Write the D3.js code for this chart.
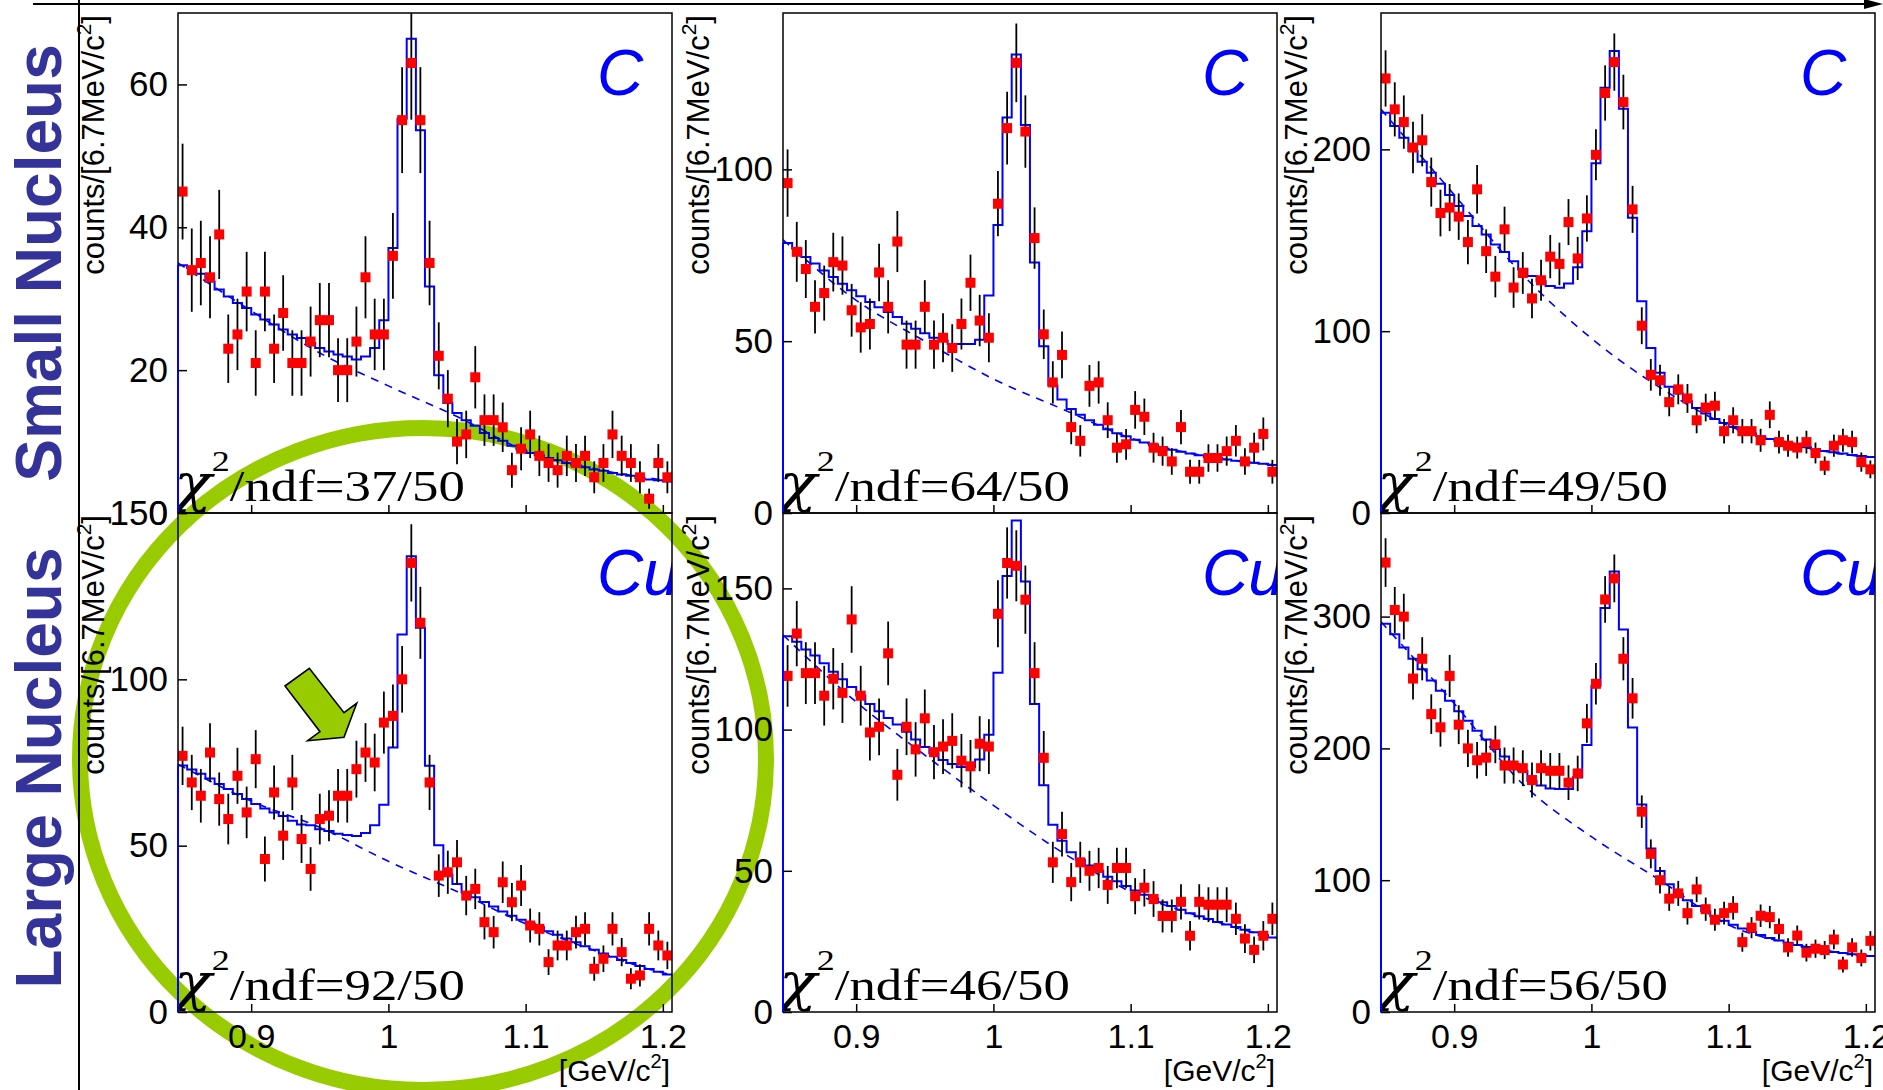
<!DOCTYPE html>
<html><head><meta charset="utf-8">
<script src="https://cdn.jsdelivr.net/npm/d3@7"></script>
<style>body{margin:0;background:#fff;} svg{display:block;}</style>
</head><body>
<svg id="c" width="1883" height="1090"></svg>
<script>
// ---------------- data ----------------
const massBins = [0.8500,0.8567,0.8633,0.8700,0.8767,0.8833,0.8900,0.8967,0.9033,0.9100,0.9167,0.9233,0.9300,0.9367,0.9433,0.9500,0.9567,0.9633,0.9700,0.9767,0.9833,0.9900,0.9967,1.0033,1.0100,1.0167,1.0233,1.0300,1.0367,1.0433,1.0500,1.0567,1.0633,1.0700,1.0767,1.0833,1.0900,1.0967,1.1033,1.1100,1.1167,1.1233,1.1300,1.1367,1.1433,1.1500,1.1567,1.1633,1.1700,1.1767,1.1833,1.1900,1.1967,1.2033];
const binWidth = 0.00667;
const massRange = [0.84667, 1.20667];
const xTickValues = [0.9, 1.0, 1.1, 1.2];

const countsC1 = [45,34,35,33,39,23,25,31,21,31,23,28,21,21,24,27,27,20,20,24,33,25,25,36,55,63,55,35,22,16,10,11,19,13,13,12,6,9,11,8,7,6,8,7,8,5,7,11,8,7,5,2,7,5];
const countsC2 = [96,76,71,60,64,73,72,59,54,55,70,60,79,49,49,60,49,51,48,55,67,56,51,90,112,131,111,80,52,38,46,25,21,37,38,27,19,20,30,28,19,18,15,25,12,12,16,16,18,21,15,19,23,12];
const countsC3 = [239,222,215,201,205,182,165,168,163,149,178,144,130,156,124,132,118,128,141,137,160,140,162,197,231,248,226,167,103,76,73,61,68,63,51,58,59,45,51,45,45,40,54,39,37,36,39,33,26,37,40,39,28,24];
const countsCu1 = [77,69,65,78,64,58,71,60,76,46,66,53,69,52,43,58,59,65,65,73,78,75,87,89,100,135,117,69,41,42,45,35,37,27,24,39,33,38,26,25,15,20,20,24,25,13,16,25,18,10,11,25,20,17];
const countsCu2 = [119,134,120,120,112,118,113,139,112,99,101,127,84,101,93,104,92,94,96,89,87,95,94,141,159,158,146,120,90,53,63,46,53,50,51,45,51,51,41,44,40,34,34,39,27,39,38,38,38,33,26,22,27,33];
const countsCu3 = [341,305,300,253,268,226,216,255,218,200,191,193,203,187,187,185,176,185,183,183,174,181,219,249,313,329,268,238,152,120,100,86,90,75,93,78,70,75,79,53,64,73,72,63,49,58,45,48,47,55,36,49,41,54];

const fitC1 = [34.7,34.3,33.5,32.4,31.3,30.3,29.4,28.7,27.8,27.1,26.4,25.7,25.0,24.5,23.8,23.1,22.6,22.2,21.9,21.5,21.9,23.1,27.0,37.1,55.2,66.4,53.6,31.7,19.3,15.4,14.0,13.0,12.2,11.2,10.5,10.1,9.4,8.9,8.4,8.1,7.7,7.4,7.0,6.7,6.4,6.1,5.9,5.6,5.4,5.2,4.9,4.7,4.6,4.4];
const fitC2 = [78.6,77.0,74.5,72.6,70.6,68.7,66.7,64.8,63.1,61.4,59.9,58.5,57.0,55.1,53.6,52.3,51.0,50.2,49.2,49.2,49.2,50.4,63.3,83.8,115.1,133.4,112.9,72.9,48.5,37.1,33.0,30.3,28.6,27.0,25.7,24.4,23.2,22.3,21.3,20.5,19.7,19.1,18.4,17.8,17.3,16.8,16.3,16.0,15.6,15.2,14.9,14.6,14.3,14.0];
const fitC3 = [220.2,212.8,206.4,199.1,193.2,187.2,181.1,174.9,168.8,163.3,157.8,153.2,147.7,143.5,138.5,134.3,130.3,127.5,124.8,123.9,126.2,135.2,155.0,192.3,233.9,254.1,222.4,162.4,116.5,90.8,77.1,69.4,65.7,61.5,57.8,54.7,51.7,49.5,47.3,45.5,43.7,42.2,40.7,39.4,38.3,37.2,36.1,35.0,34.1,33.4,32.7,31.9,31.4,30.8];
const fitCu1 = [74.1,72.9,71.6,70.2,68.5,67.0,65.5,64.0,62.5,61.2,60.0,58.9,57.5,56.4,56.1,54.9,54.4,53.6,53.2,52.9,53.8,56.1,62.3,79.5,113.5,137.0,115.5,74.0,50.1,41.3,38.5,35.9,34.5,33.1,31.7,30.2,28.9,27.7,26.6,25.5,24.3,23.2,22.1,21.0,19.8,18.7,17.6,16.6,15.6,14.7,13.8,12.9,12.1,11.3];
const fitCu2 = [133.1,131.1,128.4,126.2,123.5,120.5,117.8,115.1,112.1,109.1,106.5,104.1,101.8,99.2,96.5,93.8,91.6,89.2,87.8,86.8,86.8,89.4,98.2,120.1,154.4,174.0,152.4,109.1,80.3,66.3,60.6,56.6,53.9,51.9,49.9,47.9,46.3,44.6,43.0,41.5,40.2,38.9,37.5,36.2,35.0,33.9,32.9,31.9,31.0,30.1,29.1,28.2,27.3,26.4];
const fitCu3 = [294.6,286.6,276.6,268.0,260.1,251.5,243.8,236.1,228.1,221.0,213.3,206.7,199.6,193.9,188.2,183.1,175.4,171.9,169.6,169.1,169.1,178.2,202.5,247.5,306.5,334.2,290.3,215.9,157.4,124.0,106.9,96.9,89.8,84.7,80.4,76.4,72.7,69.3,66.2,63.3,60.7,58.5,56.2,54.2,52.5,50.8,49.3,47.9,46.8,45.6,44.8,43.9,43.1,42.5];

const bgMass = [0.8467,0.90,0.95,1.00,1.05,1.10,1.15,1.20,1.2067];
const bgC1  = [35.0,28.3,22.4,17.8,13.5,8.7,6.2,4.6,4.4];
const bgC2  = [79.5,61.9,50.0,39.0,30.3,21.8,16.9,14.2,14.0];
const bgC3  = [222,175,131,96,69,48,37,31,30.7];
const bgCu1 = [74.5,63.4,55.5,45.3,36.2,26.5,18.5,11.8,11.2];
const bgCu2 = [133.5,109.8,91,73.2,56.6,42.6,33.9,26.9,26.2];
const bgCu3 = [296,234,173,133,100,66,51,43,42.5];

const yMaxes = [70, 145.5, 275, 150, 176.7, 378.6];
const yTicksC1 = [0,20,40,60], yTicksC2 = [0,50,100], yTicksC3 = [0,100,200];
const yTicksCu1 = [0,50,100,150], yTicksCu2 = [0,50,100,150], yTicksCu3 = [0,100,200,300];
const targets = ["C","C","C","Cu","Cu","Cu"];
const chiTexts = ["37/50","64/50","49/50","92/50","46/50","56/50"];
const rowLabels = ["Small Nucleus","Large Nucleus"];

// ---------------- layout ----------------
const svg = d3.select("#c");
const defs = svg.append("defs");
const colX = [178, 783, 1381], PW = 494;
const rowY = [13, 513], rowH = [500, 499];
const SANS = "'Liberation Sans', Arial, Helvetica, sans-serif";
const SERIF = "'Liberation Serif', 'Times New Roman', serif";
const BLUE = "#0000ff", GREEN = "#99cc00";

// green highlight ellipse (behind everything)
svg.append("ellipse").attr("cx",423).attr("cy",759).attr("rx",343).attr("ry",331)
  .attr("fill","none").attr("stroke",GREEN).attr("stroke-width",16);

// top arrow line and vertical line
svg.append("line").attr("x1",33).attr("x2",1868).attr("y1",4).attr("y2",4).attr("stroke","#000").attr("stroke-width",2);
svg.append("path").attr("d","M1864,-1 L1883,4 L1864,9 Z").attr("fill","#000");
svg.append("line").attr("x1",79).attr("x2",79).attr("y1",0).attr("y2",1090).attr("stroke","#000").attr("stroke-width",2);

// row labels
[263, 768].forEach((cy, r) => {
  svg.append("text").attr("transform",`translate(61,${cy}) rotate(-90)`)
    .attr("text-anchor","middle").attr("font-family",SANS).attr("font-weight","bold")
    .attr("font-size",64).attr("fill","#333399").text(rowLabels[r]);
});

const panels = [
  {c:0,r:0,counts:countsC1,fit:fitC1,bg:bgC1,ticks:yTicksC1},
  {c:1,r:0,counts:countsC2,fit:fitC2,bg:bgC2,ticks:yTicksC2},
  {c:2,r:0,counts:countsC3,fit:fitC3,bg:bgC3,ticks:yTicksC3},
  {c:0,r:1,counts:countsCu1,fit:fitCu1,bg:bgCu1,ticks:yTicksCu1},
  {c:1,r:1,counts:countsCu2,fit:fitCu2,bg:bgCu2,ticks:yTicksCu2},
  {c:2,r:1,counts:countsCu3,fit:fitCu3,bg:bgCu3,ticks:yTicksCu3},
];

panels.forEach((p, k) => {
  const left = colX[p.c], top = rowY[p.r], h = rowH[p.r];
  const x = d3.scaleLinear().domain(massRange).range([left, left + PW]);
  const y = d3.scaleLinear().domain([0, yMaxes[k]]).range([top + h, top]);
  const clipId = "clip" + k;
  defs.append("clipPath").attr("id", clipId).append("rect")
    .attr("x", left).attr("y", top).attr("width", PW).attr("height", h);
  const g = svg.append("g");
  const inner = g.append("g").attr("clip-path", `url(#${clipId})`);

  // dashed background
  inner.append("path")
    .attr("d", d3.line().x((d,i)=>x(bgMass[i])).y(d=>y(d)).curve(d3.curveMonotoneX)(p.bg))
    .attr("fill","none").attr("stroke",BLUE).attr("stroke-width",1.6).attr("stroke-dasharray","8,7");

  // fit step histogram
  let dstr = `M${x(massRange[0])},${y(0)}`;
  p.fit.forEach((v, i) => {
    dstr += `V${y(v)}H${x(massBins[i] + binWidth/2)}`;
  });
  inner.append("path").attr("d", dstr).attr("fill","none").attr("stroke",BLUE).attr("stroke-width",2);

  // error bars
  inner.selectAll("line.err").data(p.counts).enter().append("line")
    .attr("x1",(d,i)=>x(massBins[i])).attr("x2",(d,i)=>x(massBins[i]))
    .attr("y1",d=>y(d + Math.sqrt(d))).attr("y2",d=>y(Math.max(0, d - Math.sqrt(d))))
    .attr("stroke","#000").attr("stroke-width",1.8);
  // markers
  inner.selectAll("rect.pt").data(p.counts).enter().append("rect")
    .attr("x",(d,i)=>x(massBins[i]) - 5).attr("y",d=>y(d) - 5)
    .attr("width",10).attr("height",10).attr("fill","#ff0000");

  // target label
  inner.append("text").attr("x", left + 419).attr("y", top + 82)
    .attr("font-family",SANS).attr("font-style","italic").attr("font-size",64)
    .attr("fill",BLUE).text(targets[k]);

  // chi2 text
  const chi = inner.append("text")
    .attr("transform",`translate(${left - 4},${top + h - 12}) scale(1.2,1)`)
    .attr("font-family",SERIF).attr("font-size",44).attr("fill","#000");
  chi.append("tspan").attr("font-family","'DejaVu Serif', serif").attr("font-style","italic")
    .attr("font-size",52).text("\u03C7");
  chi.append("tspan").attr("font-size",30).attr("dy",-30).text("2");
  chi.append("tspan").attr("dy",30).text("/ndf=" + chiTexts[k]);

  // frame
  g.append("rect").attr("x",left).attr("y",top).attr("width",PW).attr("height",h)
    .attr("fill","none").attr("stroke","#000").attr("stroke-width",1.5);
  // blue left edge where the histogram rises from zero
  g.append("line").attr("x1",left).attr("x2",left).attr("y1",y(0)).attr("y2",y(p.fit[0]))
    .attr("stroke",BLUE).attr("stroke-width",2);

  // y axis
  const ya = g.append("g").attr("transform",`translate(${left},0)`)
    .call(d3.axisLeft(y).tickValues(p.ticks).tickSize(-9).tickPadding(10).tickFormat(d3.format("d")));
  ya.select(".domain").remove();
  ya.attr("font-size",35).attr("font-family",SANS);
  ya.selectAll("line").attr("stroke-width",1.5);

  // x axis
  const xa = g.append("g").attr("transform",`translate(0,${top + h})`)
    .call(d3.axisBottom(x).tickValues(xTickValues).tickSize(-8).tickPadding(12)
      .tickFormat(p.r === 1 ? (d => d === 1 ? "1" : d3.format(".1f")(d)) : (() => "")));
  xa.select(".domain").remove();
  xa.attr("font-size",34).attr("font-family",SANS);
  xa.selectAll("line").attr("stroke-width",1.5);

  // y axis title
  const yt = g.append("text").attr("transform",`translate(${left - 74},${top + 2}) rotate(-90)`)
    .attr("text-anchor","end").attr("font-family",SANS).attr("font-size",31).attr("fill","#000");
  yt.append("tspan").text("counts/[6.7MeV/c");
  yt.append("tspan").attr("font-size",21).attr("dy",-13).text("2");
  yt.append("tspan").attr("dy",13).text("]");

  // x axis title
  if (p.r === 1) {
    const xt = g.append("text").attr("x", left + PW - 2).attr("y", 1081)
      .attr("text-anchor","end").attr("font-family",SANS).attr("font-size",30).attr("fill","#000");
    xt.append("tspan").text("[GeV/c");
    xt.append("tspan").attr("font-size",20).attr("dy",-13).text("2");
    xt.append("tspan").attr("dy",13).text("]");
  }
});

// green block arrow in the Cu panel
svg.append("path")
  .attr("d","M285,686 L309.3,668.3 L344,712.7 L356.7,703.3 L344,737.3 L307.7,740.7 L320,731.7 Z")
  .attr("fill",GREEN).attr("stroke","#000").attr("stroke-width",1.6).attr("stroke-linejoin","miter");
</script>
</body></html>
